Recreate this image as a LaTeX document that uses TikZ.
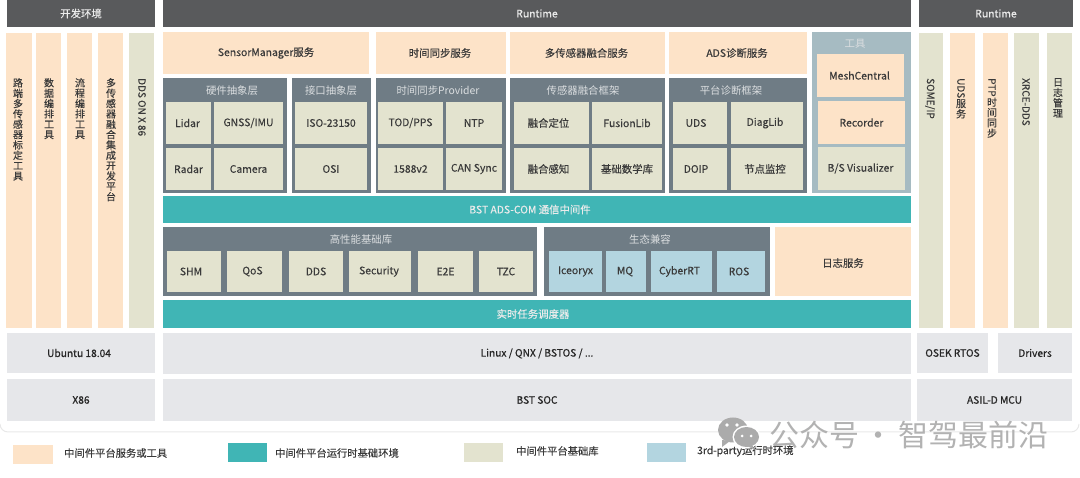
\documentclass[tikz,border=0pt]{standalone}
\usepackage{fontspec}
\setmainfont{Noto Sans CJK SC}[FakeBold=0.25]
\newfontfamily\medfont{Noto Sans CJK SC}[FakeBold=0.7]
\newfontfamily\plainfont{Noto Sans CJK SC}
\usepackage{graphicx}
\definecolor{headgray}{HTML}{595A5C}
\definecolor{panelgray}{HTML}{6F7C85}
\definecolor{toolgray}{HTML}{A6BBC2}
\definecolor{svcorange}{HTML}{FDE3C8}
\definecolor{baseolive}{HTML}{E3E3CF}
\definecolor{rtteal}{HTML}{40B5B5}
\definecolor{thirdblue}{HTML}{B3D5E0}
\definecolor{osgray}{HTML}{E6E7EA}
\definecolor{inktext}{HTML}{3A3A3A}
\tikzset{
	lbl/.style={midway,font=\fontsize{10.4}{12}\selectfont,text=inktext,inner sep=0pt},
	lblbold/.style={lbl,font=\fontsize{10.2}{12}\medfont,text=black!85},
	lblwhite/.style={lbl,text=white!92!black},
	ttl/.style={font=\fontsize{10.4}{12}\plainfont,text=white!75!panelgray,inner sep=0pt},
	vlbl/.style={anchor=north,align=center,font=\fontsize{10}{10.35}\selectfont,text=inktext,inner sep=0pt},
	legend/.style={anchor=west,font=\fontsize{10.3}{12}\selectfont,text=inktext,inner sep=0pt},
}
\begin{document}
\begin{tikzpicture}[x=1pt,y=-1pt]
	\useasboundingbox (0,0) rectangle (1080,478);
	%card edge
	\draw[black!9,line width=1pt,rounded corners=8pt] (0,424)--(0,432)--(1079,432)--(1079,424);
	
	%headers
	\fill[headgray] (7,0) rectangle (155,27) node[lblwhite] (devhead) {开发环境};
	\fill[headgray] (163,0) rectangle (911,27) node[lblwhite] (rthead) {Runtime};
	\fill[headgray] (919,0) rectangle (1073,27) node[lblwhite] (mcuhead) {Runtime};
	
	%left columns
	\fill[svcorange] (6,33) rectangle (32,328);
	\fill[svcorange] (36,33) rectangle (61,328);
	\fill[svcorange] (67,33) rectangle (92,328);
	\fill[svcorange] (98,33) rectangle (123,328);
	\fill[baseolive] (129,33) rectangle (154,328);
	\node[vlbl] (calib) at (18,78) {路\\端\\多\\传\\感\\器\\标\\定\\工\\具};
	\node[vlbl] (dataorch) at (49,78) {数\\据\\编\\排\\工\\具};
	\node[vlbl] (floworch) at (80,78) {流\\程\\编\\排\\工\\具};
	\node[vlbl] (fusionide) at (111,78) {多\\传\\感\\器\\融\\合\\集\\成\\开\\发\\平\\台};
	\node[vlbl] (ddsx86) at (142,78) {\rotatebox{-90}{DDS ON X 86}};
	
	%services
	\fill[svcorange] (163,32) rectangle (369,74) node[lbl] (sensorsvc) {SensorManager服务};
	\fill[svcorange] (376,32) rectangle (506,74) node[lbl,xshift=-1pt] (timesvc) {时间同步服务};
	\fill[svcorange] (510,32) rectangle (665,74) node[lbl,xshift=-1pt] (fusionsvc) {多传感器融合服务};
	\fill[svcorange] (669,32) rectangle (807,74) node[lbl,xshift=-1pt] (diagsvc) {ADS诊断服务};
	
	%panels
	\fill[panelgray] (163,78) rectangle (287,193);
	\fill[panelgray] (292,78) rectangle (371,193);
	\fill[panelgray] (376,78) rectangle (506,193);
	\fill[panelgray] (510,78) rectangle (665,193);
	\fill[panelgray] (669,78) rectangle (807,193);
	\node[ttl] (hwtitle) at (232,91) {硬件抽象层};
	\node[ttl] (iftitle) at (331,91) {接口抽象层};
	\node[ttl] (timetitle) at (438,91) {时间同步Provider};
	\node[ttl] (fusiontitle) at (583,91) {传感器融合框架};
	\node[ttl] (diagtitle) at (731,91) {平台诊断框架};
	
	%panel cells
	\fill[baseolive] (166,102) rectangle (211,144) node[lbl,xshift=-1pt] (lidar) {Lidar};
	\fill[baseolive] (214,102) rectangle (283,144) node[lbl] (gnss) {GNSS/IMU};
	\fill[baseolive] (166,148) rectangle (211,190) node[lbl] (radar) {Radar};
	\fill[baseolive] (214,148) rectangle (283,190) node[lbl] (camera) {Camera};
	\fill[baseolive] (295,102) rectangle (367,144) node[lbl] (iso) {ISO-23150};
	\fill[baseolive] (295,148) rectangle (367,190) node[lbl] (osi) {OSI};
	\fill[baseolive] (378,102) rectangle (443,144) node[lbl] (tod) {TOD/PPS};
	\fill[baseolive] (446,102) rectangle (502,144) node[lbl] (ntp) {NTP};
	\fill[baseolive] (378,148) rectangle (443,190) node[lbl] (ptpv) {1588v2};
	\fill[baseolive] (446,148) rectangle (502,190) node[lbl] (cansync) {CAN Sync};
	\fill[baseolive] (514,102) rectangle (589,144) node[lbl,xshift=-3pt] (fusionloc) {融合定位};
	\fill[baseolive] (592,102) rectangle (662,144) node[lbl] (fusionlib) {FusionLib};
	\fill[baseolive] (514,148) rectangle (589,190) node[lbl,xshift=-3pt] (fusionper) {融合感知};
	\fill[baseolive] (592,148) rectangle (662,190) node[lbl] (mathlib) {基础数学库};
	\fill[baseolive] (673,102) rectangle (727,144) node[lbl,xshift=-4pt] (uds) {UDS};
	\fill[baseolive] (731,102) rectangle (803,144) node[lbl,xshift=-2pt] (diaglib) {DiagLib};
	\fill[baseolive] (673,148) rectangle (727,190) node[lbl,xshift=-4pt] (doip) {DOIP};
	\fill[baseolive] (731,148) rectangle (803,190) node[lbl,xshift=-2pt] (nodemon) {节点监控};
	
	%tools
	\fill[toolgray] (812,32) rectangle (911,193);
	\node[ttl] (tooltitle) at (855,44) {工具};
	\fill[svcorange] (817,54) rectangle (904,97) node[lbl,xshift=-1pt] (mesh) {MeshCentral};
	\fill[svcorange] (818,101) rectangle (905,144) node[lbl] (recorder) {Recorder};
	\fill[baseolive] (818,147) rectangle (905,190) node[lbl,xshift=-1pt] (visualizer) {B/S Visualizer};
	
	%teal bars
	\fill[rtteal] (163,196) rectangle (911,223) node[lblwhite,xshift=-7pt] (combar) {BST ADS-COM 通信中间件};
	\fill[rtteal] (163,300) rectangle (911,328) node[lblwhite,xshift=-4pt] (schedbar) {实时任务调度器};
	
	%lower panels
	\fill[panelgray] (163,227) rectangle (537,296);
	\node[ttl] (perftitle) at (361,240) {高性能基础库};
	\fill[baseolive] (167,251) rectangle (221,292) node[lbl,xshift=-3pt] (shm) {SHM};
	\fill[baseolive] (227,251) rectangle (282,292) node[lbl,xshift=-2pt] (qos) {QoS};
	\fill[baseolive] (289,251) rectangle (343,292) node[lbl] (dds) {DDS};
	\fill[baseolive] (349,251) rectangle (411,292) node[lbl,xshift=-1pt] (security) {Security};
	\fill[baseolive] (418,251) rectangle (473,292) node[lbl] (etoe) {E2E};
	\fill[baseolive] (479,251) rectangle (533,292) node[lbl] (tzc) {TZC};
	\fill[panelgray] (544,227) rectangle (770,296);
	\node[ttl] (ecotitle) at (650,240) {生态兼容};
	\fill[thirdblue] (549,251) rectangle (602,292) node[lbl] (iceoryx) {Iceoryx};
	\fill[thirdblue] (606,251) rectangle (646,292) node[lbl,xshift=-1pt] (mq) {MQ};
	\fill[thirdblue] (651,251) rectangle (712,292) node[lbl,xshift=-2pt] (cyberrt) {CyberRT};
	\fill[thirdblue] (717,251) rectangle (765,292) node[lbl,xshift=-2pt] (ros) {ROS};
	\fill[svcorange] (775,227) rectangle (911,296) node[lbl,yshift=-1.5pt] (logsvc) {日志服务};
	
	%right columns
	\fill[baseolive] (919,33) rectangle (943,328);
	\fill[svcorange] (950,33) rectangle (975,328);
	\fill[svcorange] (983,33) rectangle (1008,328);
	\fill[baseolive] (1014,33) rectangle (1039,328);
	\fill[baseolive] (1047,33) rectangle (1072,328);
	\node[vlbl] (someip) at (930,78) {\rotatebox{-90}{SOME/IP}};
	\node[vlbl] (udssvc) at (961,78) {\rotatebox{-90}{UDS}\\服\\务};
	\node[vlbl] (ptptime) at (992,78) {\rotatebox{-90}{PTP}\\时\\间\\同\\步};
	\node[vlbl] (xrce) at (1026,78) {\rotatebox{-90}{XRCE-DDS}};
	\node[vlbl] (logmgr) at (1058,78) {日\\志\\管\\理};
	
	%os and soc
	\fill[osgray] (7,333) rectangle (155,373) node[lblbold,xshift=-2pt] (ubuntu) {Ubuntu 18.04};
	\fill[osgray] (163,333) rectangle (911,374) node[lblbold] (linux) {Linux / QNX / BSTOS / ...};
	\fill[osgray] (917,333) rectangle (988,373) node[lblbold] (osek) {OSEK RTOS};
	\fill[osgray] (998,333) rectangle (1072,373) node[lblbold] (drivers) {Drivers};
	\fill[osgray] (7,379) rectangle (155,421) node[lblbold] (xeightsix) {X86};
	\fill[osgray] (163,379) rectangle (911,421) node[lblbold] (bstsoc) {BST SOC};
	\fill[osgray] (917,379) rectangle (1072,421) node[lblbold] (asil) {ASIL-D MCU};
	
	%legend
	\fill[svcorange] (13,445) rectangle (53,464);
	\node[legend] (legsvc) at (64,453) {中间件平台服务或工具};
	\fill[rtteal] (228,443) rectangle (267,462);
	\node[legend] (legrt) at (275,453) {中间件平台运行时基础环境};
	\fill[baseolive] (464,443) rectangle (503,462);
	\node[legend] (legbase) at (516,451) {中间件平台基础库};
	\fill[thirdblue] (647,443) rectangle (686,462);
	\node[legend] (legthird) at (697,451) {3rd-party运行时环境};
	
	%watermark
	\fill[black!33] (733,430) ellipse (15 and 12.5);
	\fill[black!33] (722,440) -- (722,447) -- (730,441) -- cycle;
	\fill[white] (746.5,437) ellipse (14 and 11.5);
	\fill[black!33] (746.5,437) ellipse (12.5 and 10);
	\fill[black!33] (752,445) -- (755,450) -- (747,446) -- cycle;
	\fill[white] (727,425) circle (1.8);
	\fill[white] (737,425) circle (1.8);
	\fill[white] (742,436) circle (1.5);
	\fill[white] (751,436) circle (1.5);
	\node[anchor=west,inner sep=0pt,text=black!30,font=\fontsize{30}{32}\plainfont] (wmark) at (769,435) {公众号\kern-2pt{} · \kern-2pt{}智驾最前沿};
\end{tikzpicture}
\end{document}
